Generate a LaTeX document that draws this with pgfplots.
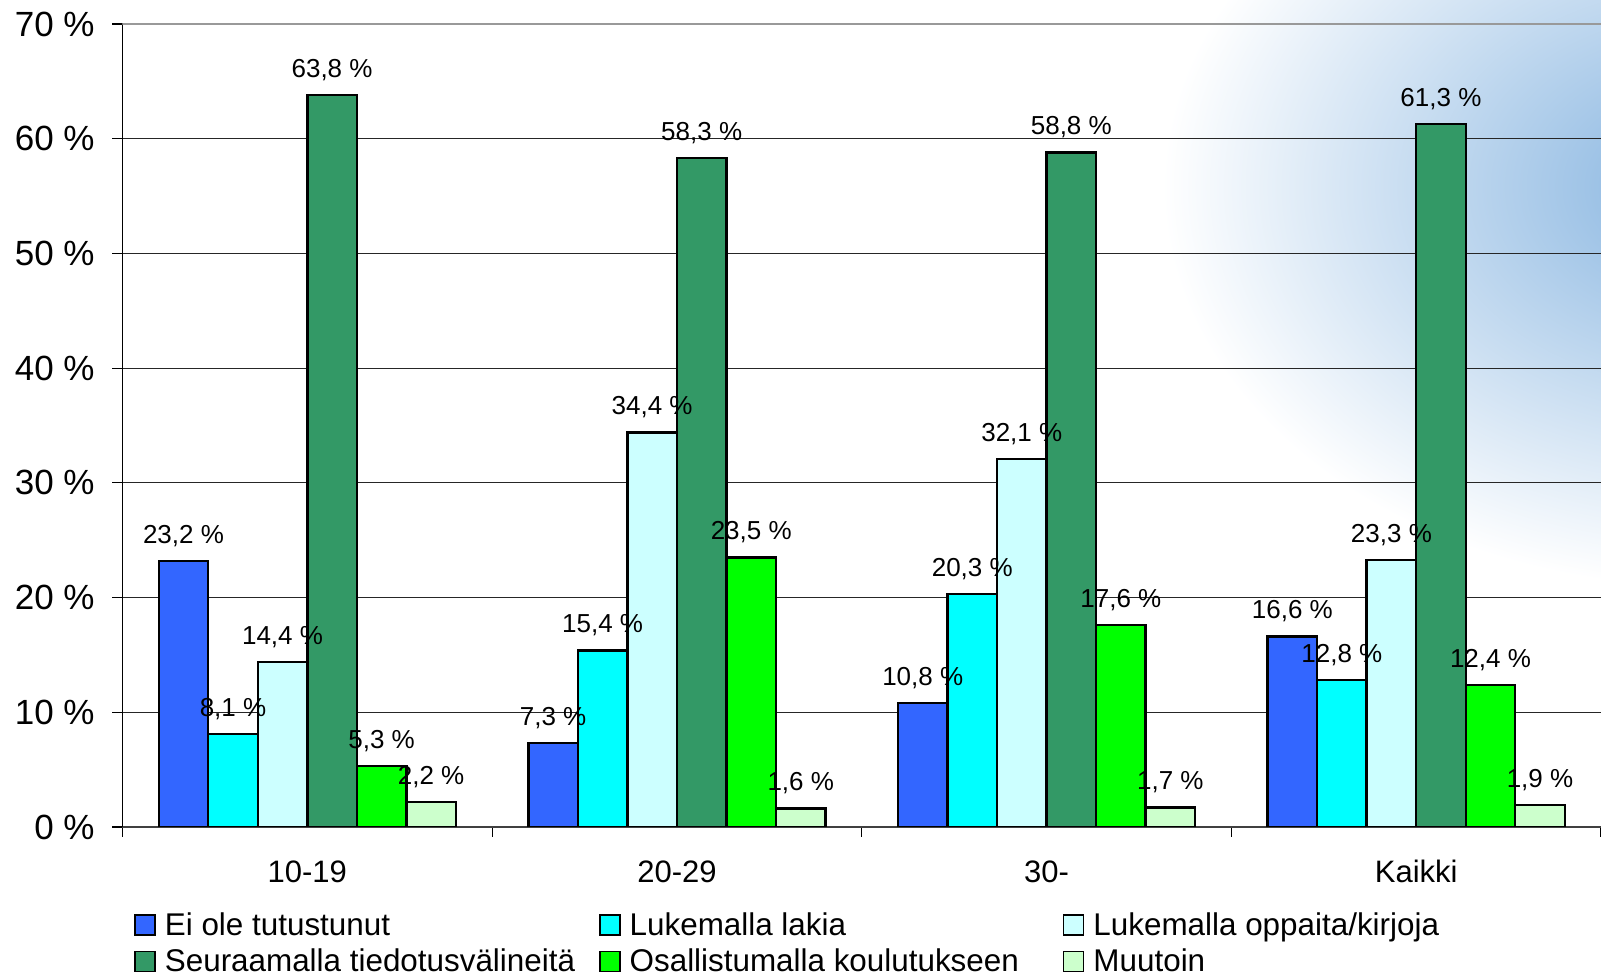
\documentclass[border=0pt]{standalone}
\usepackage{fontspec}
\setmainfont{Liberation Sans}
\usepackage{pgfplots}
\pgfplotsset{compat=1.18}

\definecolor{cBlue}{HTML}{3366FF}
\definecolor{cCyan}{HTML}{00FFFF}
\definecolor{cLight}{HTML}{CCFFFF}
\definecolor{cSea}{HTML}{339966}
\definecolor{cGreen}{HTML}{00FF00}
\definecolor{cPale}{HTML}{CCFFCC}
\definecolor{bgblue}{HTML}{86B4E0}

\pgfplotsset{
  sq legend/.style={legend image code/.code={\draw[##1,line width=0.8pt] (0pt,0pt) rectangle (10pt,10pt);}},
}

\begin{document}
\begin{tikzpicture}
% slide background, light blue in the top right corner
\begin{scope}
  \clip (-61.25pt,-75pt) rectangle (739.25pt,413.5pt);
  \shade[inner color=bgblue, outer color=white] (790pt,320pt) ellipse (270pt and 200pt);
\end{scope}

\begin{axis}[
    at={(0,0)}, anchor=south west,
    width=739.25pt, height=401.5pt, scale only axis,
    ybar, bar width=0.134,
    xmin=-0.5, xmax=3.5, ymin=0, ymax=70,
    axis x line*=bottom, axis y line*=left,
    x axis line style={draw=black!75, line width=1pt},
    y axis line style={draw=black, line width=0.75pt},
    xtick={0,1,2,3}, xticklabels={10-19,20-29,30-,Kaikki},
    major x tick style={draw=none},
    minor xtick={-0.5,0.5,1.5,2.5,3.5},
    ytick={0,10,...,70},
    tick align=outside,
    major tick length=5pt, minor tick length=5pt,
    tick style={black, line width=0.6pt},
    ymajorgrids, grid style={black!85, line width=0.55pt},
    /pgf/number format/assume math mode=true,
    yticklabel={\pgfmathprintnumber{\tick}~\%},
    yticklabel style={font=\fontsize{17.5}{21}\selectfont, inner sep=0pt, anchor=east, xshift=-8.75pt},
    xticklabel style={font=\fontsize{15.5}{18}\selectfont, inner sep=0pt, anchor=base, yshift=-22.85pt},
    nodes near coords={\pgfmathprintnumber[fixed,fixed zerofill,precision=1,use comma]{\pgfplotspointmeta}~\%},
    every node near coord/.append style={font=\fontsize{13}{15}\selectfont, text=black, inner sep=0pt, text depth=0pt, anchor=south, yshift=8.25pt},
    legend columns=3,
    legend style={at={(0,0)}, anchor=north west, xshift=5.9pt, yshift=-42.6pt,
      draw=none, fill=none, inner sep=0pt, outer sep=0pt,
      font=\fontsize{15.7}{19}\selectfont,
      cells={anchor=base west},
      nodes={inner sep=0pt, text height=11.5pt, text depth=1pt},
      column sep=0pt, row sep=5.6pt,
      /tikz/column 1/.style={column sep=4.5pt},
      /tikz/column 2/.style={column sep=12pt},
      /tikz/column 3/.style={column sep=4.5pt},
      /tikz/column 4/.style={column sep=22pt},
      /tikz/column 5/.style={column sep=4.5pt}},
]

\addplot[fill=cBlue, draw=black, line width=1.2pt, bar shift=-0.335, sq legend] coordinates {(0,23.2) (1,7.3) (2,10.8) (3,16.6)};
\addlegendentry{Ei ole tutustunut}
\addplot[fill=cCyan, draw=black, line width=1.2pt, bar shift=-0.201, sq legend] coordinates {(0,8.1) (1,15.4) (2,20.3) (3,12.8)};
\addlegendentry{Lukemalla lakia}
\addplot[fill=cLight, draw=black, line width=1.2pt, bar shift=-0.067, sq legend] coordinates {(0,14.4) (1,34.4) (2,32.1) (3,23.3)};
\addlegendentry{Lukemalla oppaita/kirjoja}
\addplot[fill=cSea, draw=black, line width=1.2pt, bar shift=0.067, sq legend] coordinates {(0,63.8) (1,58.3) (2,58.8) (3,61.3)};
\addlegendentry{Seuraamalla tiedotusvälineitä}
\addplot[fill=cGreen, draw=black, line width=1.2pt, bar shift=0.201, sq legend] coordinates {(0,5.3) (1,23.5) (2,17.6) (3,12.4)};
\addlegendentry{Osallistumalla koulutukseen}
\addplot[fill=cPale, draw=black, line width=1.2pt, bar shift=0.335, sq legend] coordinates {(0,2.2) (1,1.6) (2,1.7) (3,1.9)};
\addlegendentry{Muutoin}

% top border of the plot area is grey
\draw[black!40, line width=1.1pt] (rel axis cs:0,1) -- (rel axis cs:1,1);
\end{axis}

\pgfresetboundingbox
\path (-61.25pt,-75pt) rectangle (739.25pt,413.5pt);
\end{tikzpicture}
\end{document}
